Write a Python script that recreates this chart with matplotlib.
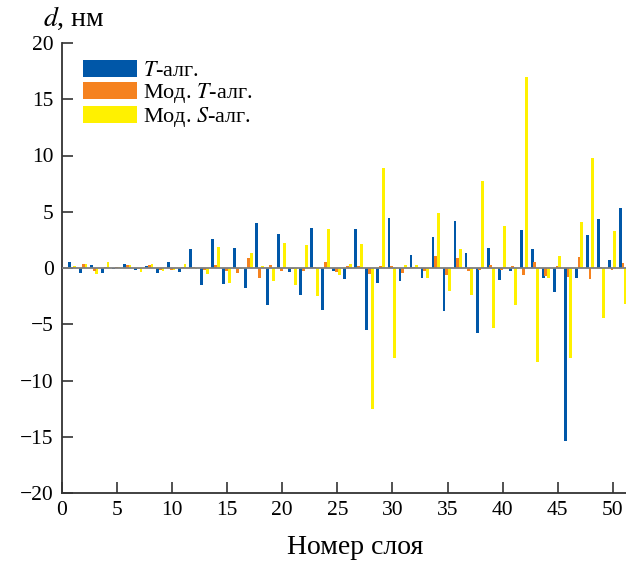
import matplotlib
matplotlib.use("Agg")
import matplotlib.pyplot as plt
import numpy as np

# layer numbers
layers = np.arange(1, 52)

# deviation d, nm for each algorithm
t_alg = [0.5, -0.45, 0.25, -0.4, -0.05, 0.4, -0.2, 0.2, -0.45, 0.5,
         -0.35, 1.7, -1.5, 2.6, -1.4, 1.8, -1.8, 4.0, -3.3, 3.0,
         -0.35, -2.4, 3.6, -3.7, -0.3, -1.0, 3.45, -5.55, -1.35, 4.45,
         -1.15, 1.2, -0.85, 2.75, -3.8, 4.2, 1.3, -5.8, 1.75, -1.05,
         -0.3, 3.4, 1.7, -0.85, -2.15, -15.35, -0.85, 2.95, 4.35, 0.7,
         5.3]
mod_t_alg = [0.1, 0.4, -0.3, 0.1, 0.1, 0.25, -0.1, 0.3, -0.15, -0.2,
             0.1, 0.1, -0.15, 0.3, -0.3, -0.4, 0.85, -0.9, 0.3, -0.3,
             -0.1, -0.25, 0.05, 0.55, -0.35, 0.15, 0.15, -0.5, 0.2, 0.15,
             -0.4, 0.1, -0.25, 1.05, -0.6, 0.85, -0.3, -0.2, 0.25, -0.2,
             0.15, -0.6, 0.55, -0.75, 0.15, -0.8, 0.95, -1.0, 0.05, -0.15,
             0.45]
mod_s_alg = [0.2, 0.35, -0.55, 0.5, 0.1, 0.25, -0.35, 0.35, -0.3, -0.2,
             0.4, -0.1, -0.5, 1.85, -1.35, -0.1, 1.35, 0.15, -1.15, 2.2,
             -1.5, 2.05, -2.5, 3.5, -0.65, 0.4, 2.15, -12.5, 8.9, -8.0,
             0.27, 0.3, -0.9, 4.85, -2.0, 1.65, -2.4, 7.75, -5.35, 3.75,
             -3.3, 17.0, -8.35, -0.9, 1.05, -8.0, 4.05, 9.8, -4.45, 3.3,
             -3.2]

plt.rcParams['font.family'] = ['Liberation Serif', 'DejaVu Serif']
plt.rcParams['mathtext.fontset'] = 'stix'

fig = plt.figure(figsize=(6.26, 5.64), dpi=100)
ax = fig.add_axes([62 / 626, 71 / 564, 564 / 626, 450 / 564])

w = 0.26
ax.bar(layers - 0.32, t_alg, width=w, color='#0057a8', label='$T$-алг.', zorder=2)
ax.bar(layers - 0.07, mod_t_alg, width=w, color='#f5821f', label='Мод. $T$-алг.', zorder=3)
ax.bar(layers + 0.17, mod_s_alg, width=w, color='#fff100', label='Мод. $S$-алг.', zorder=2)

# zero line
ax.axhline(0, color='#7f7f7f', lw=1.3, zorder=4)

ax.set_xlim(0, 51.2)
ax.set_ylim(-20, 20)
ax.set_xticks(np.arange(0, 51, 5))
ax.set_yticks(np.arange(-20, 21, 5))
ax.tick_params(direction='in', length=8, width=1.2, color='#333333',
               labelsize=15.5, pad=6)
ax.spines['top'].set_visible(False)
ax.spines['right'].set_visible(False)
for s in ['left', 'bottom']:
    ax.spines[s].set_color('#333333')
    ax.spines[s].set_linewidth(1.3)

ax.legend(loc='upper left', bbox_to_anchor=(0.037, 0.962), frameon=False,
          fontsize=16, handlelength=2.45, handleheight=0.8, labelspacing=0.0,
          handletextpad=0.25, borderpad=0, borderaxespad=0)

fig.text(43 / 626, 1 - 18 / 564, '$d$, нм', fontsize=20, va='center', ha='left')
fig.text(355 / 626, 1 - 547 / 564, 'Номер слоя', fontsize=20, va='center', ha='center')

plt.savefig('out.png', dpi=100)
